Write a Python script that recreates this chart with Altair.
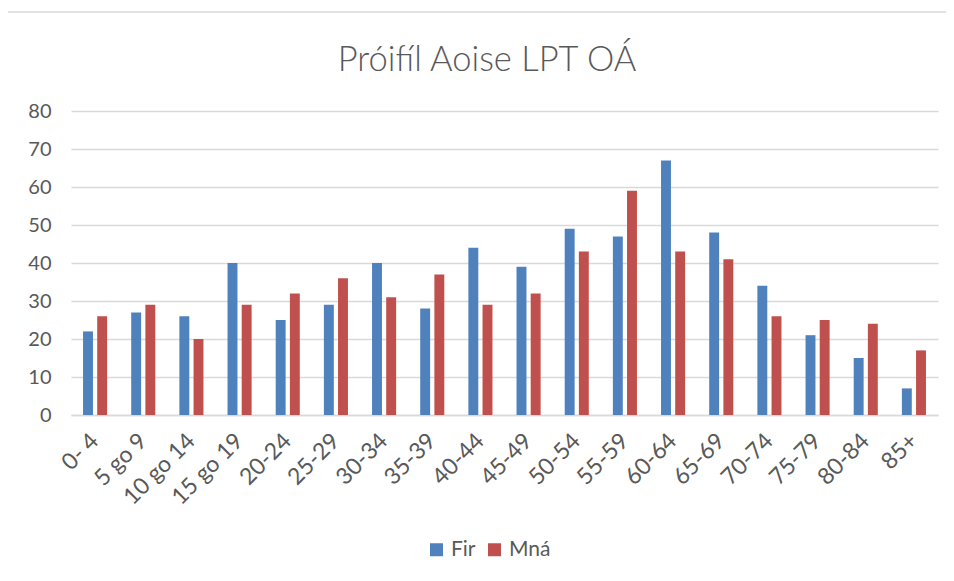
import altair as alt
import pandas as pd

categories = ["0- 4", "5 go 9", "10 go 14", "15 go 19", "20-24", "25-29", "30-34",
              "35-39", "40-44", "45-49", "50-54", "55-59", "60-64", "65-69",
              "70-74", "75-79", "80-84", "85+"]
fir = [22, 27, 26, 40, 25, 29, 40, 28, 44, 39, 49, 47, 67, 48, 34, 21, 15, 7]
mna = [26, 29, 20, 29, 32, 36, 31, 37, 29, 32, 43, 59, 43, 41, 26, 25, 24, 17]
series = ["Fir", "Mná"]
colors = ["#4F81BD", "#C0504D"]
title_text = "Próifíl Aoise LPT OÁ"

rows = []
for c, f, m in zip(categories, fir, mna):
    rows.append({"Aois": c, "Inscne": series[0], "Líon": f})
    rows.append({"Aois": c, "Inscne": series[1], "Líon": m})
df = pd.DataFrame(rows)

FONT = "Lato"
TXT = "#595959"

bars = alt.Chart(df).mark_bar().encode(
    x=alt.X("Aois:N", sort=categories, title=None,
            scale=alt.Scale(paddingInner=0.5, paddingOuter=0.25),
            axis=alt.Axis(labelAngle=-45, labelFontSize=23, labelColor=TXT,
                          labelFont=FONT, ticks=False, domainColor="#D9D9D9",
                          domainWidth=1.5, labelPadding=22, labelAlign="right",
                          labelBaseline="middle", labelOverlap=False)),
    xOffset=alt.XOffset("Inscne:N", sort=series,
                        scale=alt.Scale(paddingInner=0.3, paddingOuter=0)),
    y=alt.Y("Líon:Q", title=None,
            scale=alt.Scale(domain=[0, 80], nice=False),
            axis=alt.Axis(values=list(range(0, 81, 10)), labelFontSize=20,
                          labelColor=TXT, labelFont=FONT, ticks=False,
                          domain=False, gridColor="#D9D9D9", gridWidth=1.5,
                          labelPadding=20)),
    color=alt.Color("Inscne:N", sort=series,
                    scale=alt.Scale(domain=series, range=colors),
                    legend=alt.Legend(title=None, orient="none", legendX=355,
                                      legendY=428, direction="horizontal",
                                      padding=0, symbolType="square",
                                      symbolSize=169, symbolStrokeWidth=0,
                                      labelFontSize=21, labelColor=TXT,
                                      labelFont=FONT, columnPadding=8,
                                      labelOffset=4)),
)

border = alt.Chart(pd.DataFrame({"k": [0]})).mark_rect(
    fill=None, stroke="#D9D9D9", strokeWidth=1.5
).encode(x=alt.value(-65), x2=alt.value(950), y=alt.value(-99), y2=alt.value(600))

title = alt.Chart(pd.DataFrame({"t": [title_text]})).mark_text(
    font=FONT, fontSize=34.5, fontWeight=300, color=TXT, align="center",
    baseline="alphabetic"
).encode(x=alt.value(416), y=alt.value(-40), text="t:N")

chart = alt.layer(border, title, bars).properties(
    width=867, height=304,
    autosize=alt.AutoSizeParams(type="none"),
    padding={"left": 63, "top": 103, "right": 8, "bottom": 158},
).configure_view(stroke=None)

chart.save("out.html", embed_options={"renderer": "svg", "actions": False})
